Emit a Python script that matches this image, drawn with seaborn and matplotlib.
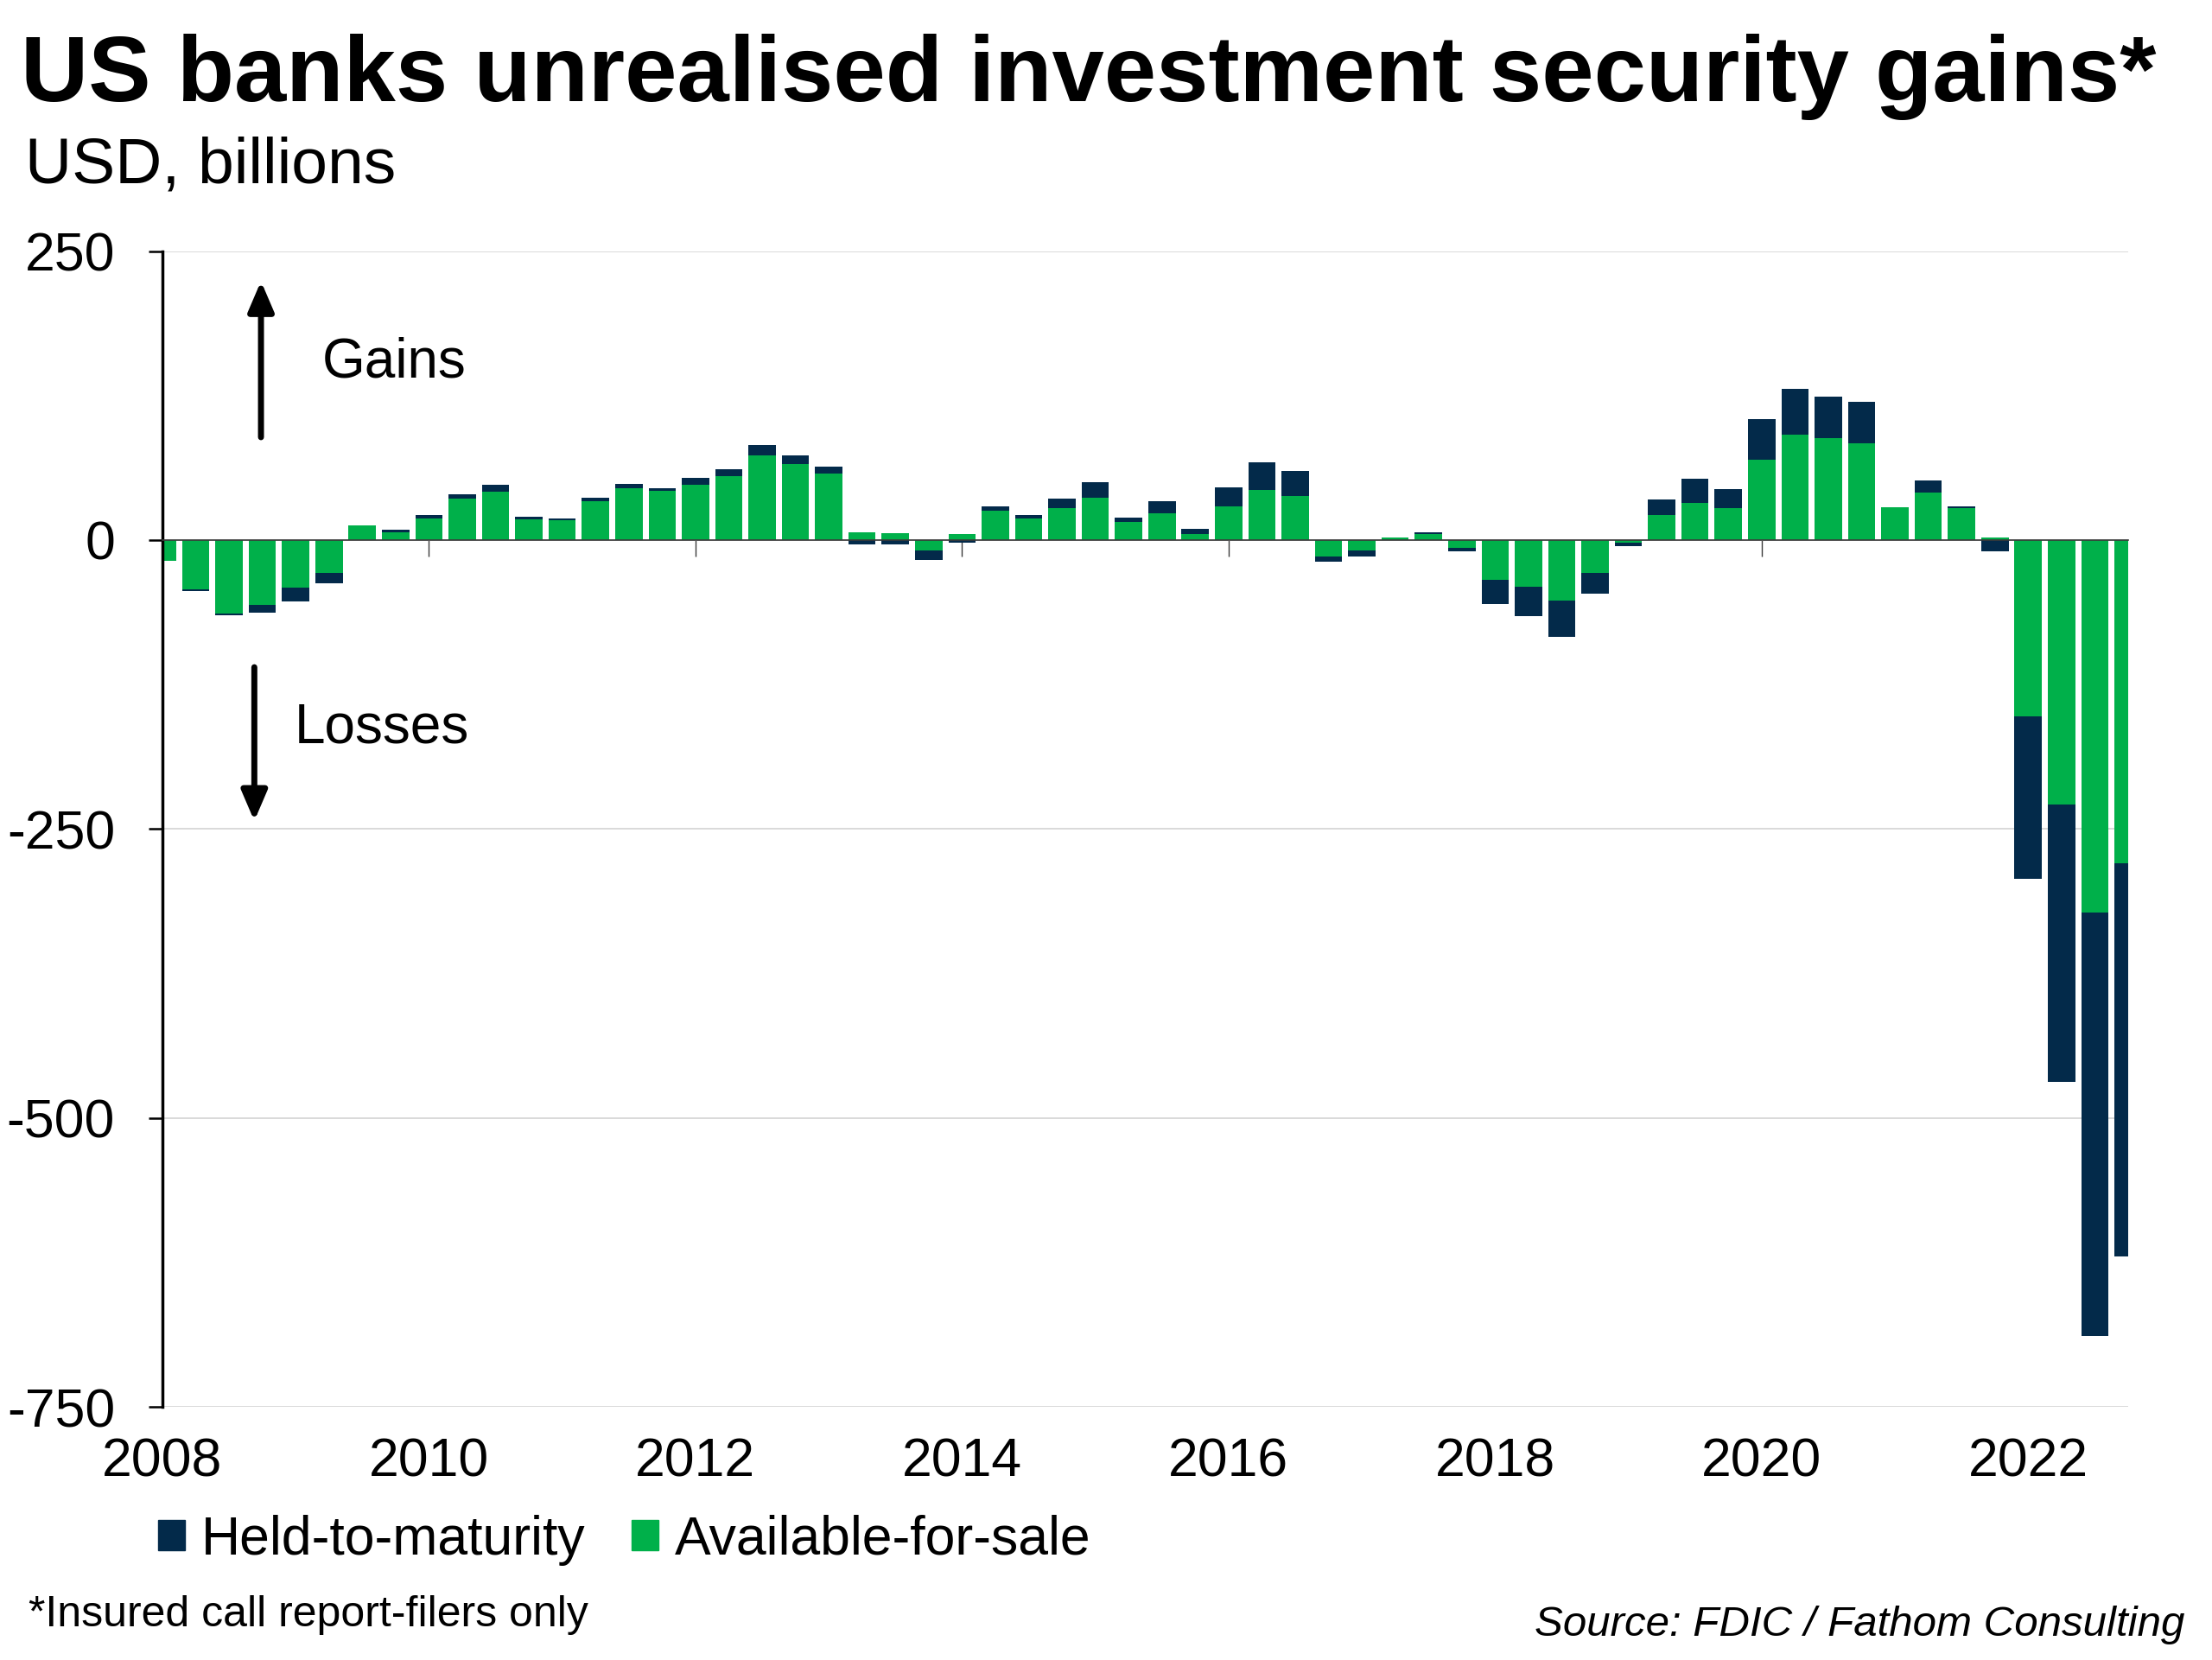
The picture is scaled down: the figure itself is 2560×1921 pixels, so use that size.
import numpy as np
import pandas as pd
import seaborn as sns
import matplotlib.pyplot as plt
from matplotlib.patches import Patch

# Quarterly unrealised gains, USD billions
quarters = pd.period_range("2008Q1", "2022Q4", freq="Q")
afs = [-18, -42.5, -63.5, -56, -41.5, -28.5, 12.5, 7,
       18.5, 36, 42, 18, 17, 34, 45, 42.5,
       48, 55, 73, 66, 57.5, 6.5, 6, -9,
       5, 25.5, 19, 27.5, 37, 15.5, 23, 5.5,
       29, 43.5, 38, -14.5, -9, 2.5, 5, -6.5,
       -34.5, -40.5, -52, -28.5, -2, 22, 32.5, 27.5,
       69.5, 91, 88, 84, 28.5, 41, 27.5, 2,
       -152.5, -228.5, -322, -280]
htm = [0, -1.5, -1.5, -6.5, -11.5, -9, 0, 2,
       3.5, 4, 6, 2.5, 2, 2.5, 3.5, 2.5,
       5.5, 6.5, 9, 7.5, 6, -3.5, -3.5, -8,
       -2.5, 4, 2.5, 8.5, 13, 4, 11, 4,
       16.5, 23.5, 21.5, -4.5, -5, 0, 1.5, -3.5,
       -20.5, -25.5, -32, -17.5, -3, 13, 20.5, 16.5,
       35, 39.5, 36, 36, 0, 10.5, 2, -10,
       -140.5, -240.5, -367, -340]
year_ticks = list(range(2008, 2023, 2))
y_ticks = [-750, -500, -250, 0, 250]

NAVY = "#032a4a"
GREEN = "#00b04a"

df = pd.DataFrame({"quarter": quarters, "afs": afs, "htm": htm})
df["x"] = df["quarter"].dt.year + (df["quarter"].dt.quarter - 1) / 4
# navy layer reaches the stacked total when both parts share a sign
same_sign = np.sign(df["afs"]) == np.sign(df["htm"])
df["outer"] = np.where(same_sign, df["afs"] + df["htm"], df["htm"])

sns.set_theme(style="white")
plt.rcParams["font.family"] = ["Liberation Sans", "DejaVu Sans"]
plt.rcParams["axes.unicode_minus"] = False
plt.rcParams["text.color"] = "black"
plt.rcParams["xtick.color"] = "black"
plt.rcParams["ytick.color"] = "black"

fig = plt.figure(figsize=(25.6, 19.21), dpi=100)
ax = fig.add_axes([0.0734, 0.1525, 0.8887, 0.6962])

sns.barplot(data=df, x="x", y="outer", native_scale=True, color=NAVY,
            saturation=1, width=0.82, errorbar=None, linewidth=0, ax=ax)
sns.barplot(data=df, x="x", y="afs", native_scale=True, color=GREEN,
            saturation=1, width=0.82, errorbar=None, linewidth=0, ax=ax)

ax.set_xlim(2008, 2022.75)
ax.set_ylim(-750, 250)
ax.set_yticks(y_ticks)
ax.set_xticks(year_ticks)
ax.set_xlabel("")
ax.set_ylabel("")

ax.yaxis.grid(True, color="#d9d9d9", lw=1.4)
ax.xaxis.grid(False)
ax.set_axisbelow(True)

for side in ["top", "right"]:
    ax.spines[side].set_visible(False)
ax.spines["left"].set_color("black")
ax.spines["left"].set_linewidth(2.5)
ax.spines["bottom"].set_position(("data", 0))
ax.spines["bottom"].set_color("#3a3a3a")
ax.spines["bottom"].set_linewidth(1.2)
ax.spines["bottom"].set_zorder(5)

ax.tick_params(axis="y", left=True, direction="out", length=11.5, width=1.8,
               color="black", pad=28, labelsize=45, labelcolor="black")
ax.tick_params(axis="x", bottom=True, direction="out", length=13.5, width=1,
               color="#3a3a3a", labelbottom=False)

# year labels sit at the bottom of the plot, ticks stay on the zero line
sec = ax.secondary_xaxis(0)
sec.set_xticks(year_ticks, labels=[str(y) for y in year_ticks])
sec.tick_params(length=0, pad=25, labelsize=45, labelcolor="black")
sec.spines["bottom"].set_visible(False)

# Gains / Losses markers
head = "-|>,head_length=0.7,head_width=0.3"
ax.annotate("", xy=(2008.74, 224), xytext=(2008.74, 89),
            arrowprops=dict(arrowstyle=head, color="black", lw=5,
                            mutation_scale=30, shrinkA=0, shrinkB=0))
ax.annotate("", xy=(2008.69, -243), xytext=(2008.69, -110),
            arrowprops=dict(arrowstyle=head, color="black", lw=5,
                            mutation_scale=30, shrinkA=0, shrinkB=0))
ax.text(2009.2, 154, "Gains", fontsize=46, va="center", ha="left")
ax.text(2008.99, -163, "Losses", fontsize=46, va="center", ha="left")

fig.text(0.0094, 0.939, "US banks unrealised investment security gains*",
         fontsize=78, fontweight="bold", ha="left", va="baseline")
fig.text(0.0113, 0.890, "USD, billions", fontsize=54, ha="left", va="baseline")

handles = [Patch(color=NAVY, label="Held-to-maturity"),
           Patch(color=GREEN, label="Available-for-sale")]
fig.legend(handles=handles, loc="center left",
           bbox_to_anchor=(183 / 2560, 1 - 1782 / 1921), ncol=2,
           frameon=False, fontsize=45, handlelength=0.5, handleheight=0.5,
           handletextpad=0.3, columnspacing=0.85, borderpad=0,
           borderaxespad=0)

fig.text(0.0129, 0.0203, "*Insured call report-filers only", fontsize=36,
         ha="left", va="baseline")
fig.text(0.9875, 0.0146, "Source: FDIC / Fathom Consulting", fontsize=35.5,
         style="italic", ha="right", va="baseline")

fig.savefig("out.png", dpi=100)
